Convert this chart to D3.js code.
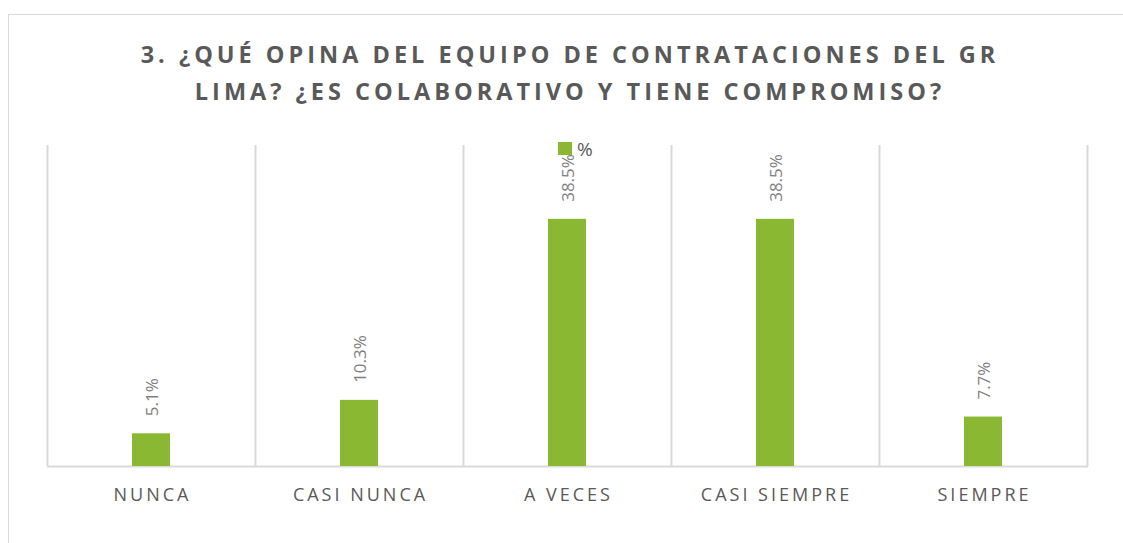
<!DOCTYPE html>
<html>
<head>
<meta charset="utf-8">
<script src="https://cdn.jsdelivr.net/npm/d3@7"></script>
<style>
  body { margin: 0; background: #fff; }
  svg { display: block; font-family: "Open Sans", sans-serif; }
</style>
</head>
<body>
<svg id="chart" width="1123" height="543"></svg>
<script>
var categories = ["NUNCA", "CASI NUNCA", "A VECES", "CASI SIEMPRE", "SIEMPRE"];
var values = [5.1, 10.3, 38.5, 38.5, 7.7];
var seriesName = "%";
var titleLines = ["3. ¿QUÉ OPINA DEL EQUIPO DE CONTRATACIONES DEL GR", "LIMA? ¿ES COLABORATIVO Y TIENE COMPROMISO?"];

var svg = d3.select("#chart");
var margin = {left: 47, right: 1087, top: 145, bottom: 466};
var green = "#8bb833";

// chart frame
svg.append("rect")
  .attr("x", 8.5).attr("y", 14.5)
  .attr("width", 1130).attr("height", 540)
  .attr("fill", "#fff").attr("stroke", "#d9d9d9");

// title
svg.append("g").selectAll("text")
  .data(titleLines).enter().append("text")
  .attr("x", 570)
  .attr("y", function(d, i){ return 63 + i * 37; })
  .attr("text-anchor", "middle")
  .attr("font-size", 23.5)
  .attr("font-weight", "bold")
  .attr("letter-spacing", 4)
  .attr("fill", "#595959")
  .text(function(d){ return d; });

var x = d3.scaleBand().domain(categories).range([margin.left, margin.right]);
var y = d3.scaleLinear().domain([0, 50]).range([margin.bottom, margin.top]);

// vertical separators between categories
var edges = categories.map(function(c){ return x(c); }).concat([margin.right]);
svg.append("g").selectAll("line")
  .data(edges).enter().append("line")
  .attr("x1", function(d){ return Math.round(d) + 0.5; })
  .attr("x2", function(d){ return Math.round(d) + 0.5; })
  .attr("y1", margin.top)
  .attr("y2", margin.bottom)
  .attr("stroke", "#d9d9d9")
  .attr("stroke-width", 2);

// baseline
svg.append("line")
  .attr("x1", margin.left).attr("x2", margin.right + 1)
  .attr("y1", margin.bottom + 0.5).attr("y2", margin.bottom + 0.5)
  .attr("stroke", "#d9d9d9").attr("stroke-width", 2);

var barW = 38;
var data = categories.map(function(c, i){ return {cat: c, v: values[i]}; });

svg.append("g").selectAll("rect")
  .data(data).enter().append("rect")
  .attr("x", function(d){ return x(d.cat) + x.bandwidth() / 2 - barW / 2; })
  .attr("y", function(d){ return y(d.v); })
  .attr("width", barW)
  .attr("height", function(d){ return y(0) - y(d.v); })
  .attr("fill", green);

// value labels, rotated
svg.append("g").selectAll("text")
  .data(data).enter().append("text")
  .attr("transform", function(d){
    return "translate(" + (x(d.cat) + x.bandwidth() / 2 + 7) + "," + (y(d.v) - 17) + ") rotate(-90)";
  })
  .attr("font-size", 17)
  .attr("fill", "#7f7f7f")
  .text(function(d){ return d.v.toFixed(1) + "%"; });

// category axis labels
svg.append("g").selectAll("text")
  .data(categories).enter().append("text")
  .attr("x", function(d){ return x(d) + x.bandwidth() / 2 + 1.5; })
  .attr("y", 501)
  .attr("text-anchor", "middle")
  .attr("font-size", 18)
  .attr("letter-spacing", 3)
  .attr("fill", "#595959")
  .text(function(d){ return d; });

// legend
var lg = svg.append("g").attr("transform", "translate(558,142)");
lg.append("rect").attr("width", 14).attr("height", 13).attr("fill", green);
lg.append("text").attr("x", 19).attr("y", 14)
  .attr("font-size", 19).attr("fill", "#595959").text(seriesName);
</script>
</body>
</html>
